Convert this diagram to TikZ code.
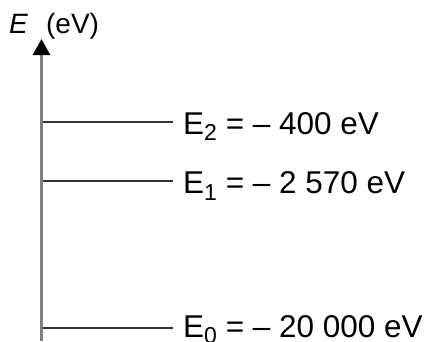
\documentclass[tikz,border=0pt]{standalone}
\usepackage{fontspec}
\setmainfont{Liberation Sans}
\usetikzlibrary{arrows.meta}
\newcommand{\sbs}[1]{\raisebox{-0.22em}{\fontsize{23}{23}\selectfont #1}}
\tikzset{
  x=1pt, y=1pt,
  level/.style={draw=black!80, line width=1.9pt},
  lbl/.style={anchor=base west, inner sep=0pt, font=\fontsize{31.5}{31.5}\selectfont},
}
\begin{document}
\begin{tikzpicture}
\useasboundingbox (0,0) rectangle (426,341);
\coordinate (axbot) at (41.5,0);
\coordinate (axtop) at (41.5,302);
\draw[draw=black!50, line width=2.6pt, -{Triangle[length=16pt,width=17pt,color=black]}] (axbot) -- (axtop);
\node[anchor=base west, inner sep=0pt, font=\fontsize{28}{28}\selectfont] (elab) at (9,308) {\textit{E}\hspace{18pt}(eV)};
% levels
\coordinate (a2) at (42.5,219.3);
\coordinate (b2) at (173,219.3);
\coordinate (a1) at (42.5,160);
\coordinate (b1) at (173,160);
\coordinate (a0) at (42.5,12.7);
\coordinate (b0) at (173,12.7);
\draw[level] (a2) -- (b2);
\draw[level] (a1) -- (b1);
\draw[level] (a0) -- (b0);
\node[lbl] (l2) at (183,207) {E\sbs{2} = – 400 eV};
\node[lbl] (l1) at (183,147.5) {E\sbs{1} = – 2 570 eV};
\node[lbl] (l0) at (183,4) {E\sbs{0} = – 20 000 eV};
\end{tikzpicture}
\end{document}
